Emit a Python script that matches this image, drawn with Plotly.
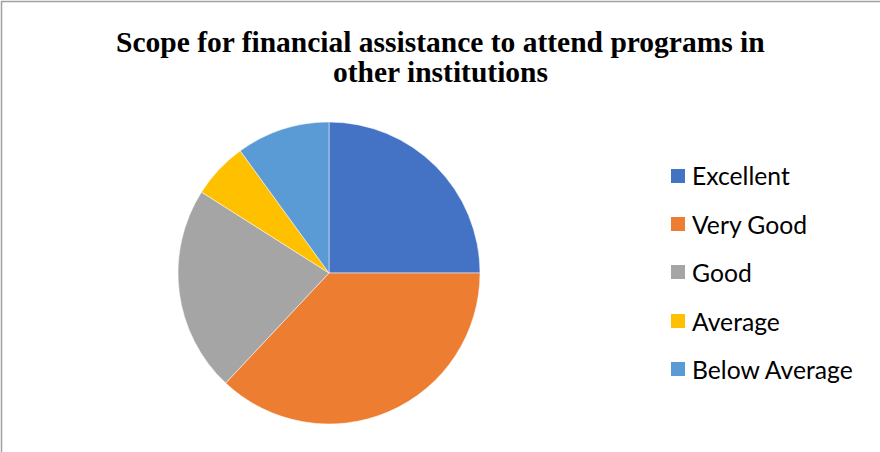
import plotly.graph_objects as go

categories = ["Excellent", "Very Good", "Good", "Average", "Below Average"]
values = [25, 37, 22, 6, 10]
colors = ["#4472C4", "#ED7D31", "#A5A5A5", "#FFC000", "#5B9BD5"]
title_lines = ["Scope for financial assistance to attend programs in", "other institutions"]

W, H = 880, 452

def px(x):
    return x / W

def py(y):
    return 1 - y / H

fig = go.Figure()
fig.add_trace(go.Pie(
    labels=categories,
    values=values,
    marker=dict(colors=colors, line=dict(color="white", width=0.5)),
    sort=False,
    direction="clockwise",
    rotation=0,
    textinfo="none",
    hoverinfo="label+value+percent",
    showlegend=False,
    domain=dict(x=[px(178), px(480)], y=[py(424), py(122)]),
))

annotations = []
for t, yy in zip(title_lines, [42, 72]):
    annotations.append(dict(
        text="<b>" + t + "</b>", x=px(441), y=py(yy),
        xref="paper", yref="paper",
        xanchor="center", yanchor="middle", showarrow=False, align="center",
        font=dict(family="Liberation Serif", size=29.5, color="#000000"),
    ))
shapes = []
row_y = [176, 224, 272, 321, 369]
for cat, col, yy in zip(categories, colors, row_y):
    shapes.append(dict(type="rect", xref="paper", yref="paper",
                       x0=px(671), x1=px(685), y0=py(yy + 7), y1=py(yy - 7),
                       fillcolor=col, line=dict(width=0)))
    annotations.append(dict(text=cat, x=px(690), y=py(yy), xref="paper", yref="paper",
                            xanchor="left", yanchor="middle", showarrow=False,
                            font=dict(family="Lato", size=24.7, color="#000000")))

shapes.append(dict(type="line", xref="paper", yref="paper", x0=px(1.5), x1=px(1.5), y0=0, y1=py(1),
                   line=dict(color="#A0A0A0", width=1.5)))
shapes.append(dict(type="line", xref="paper", yref="paper", x0=px(1), x1=1, y0=py(1.5), y1=py(1.5),
                   line=dict(color="#A0A0A0", width=1.5)))

fig.update_layout(
    width=W, height=H,
    margin=dict(l=0, r=0, t=0, b=0),
    paper_bgcolor="white", plot_bgcolor="white",
    annotations=annotations, shapes=shapes,
)
fig.write_html("out.html", config={"displayModeBar": False},
               post_script="document.body.style.margin='0';document.body.style.padding='0';")
